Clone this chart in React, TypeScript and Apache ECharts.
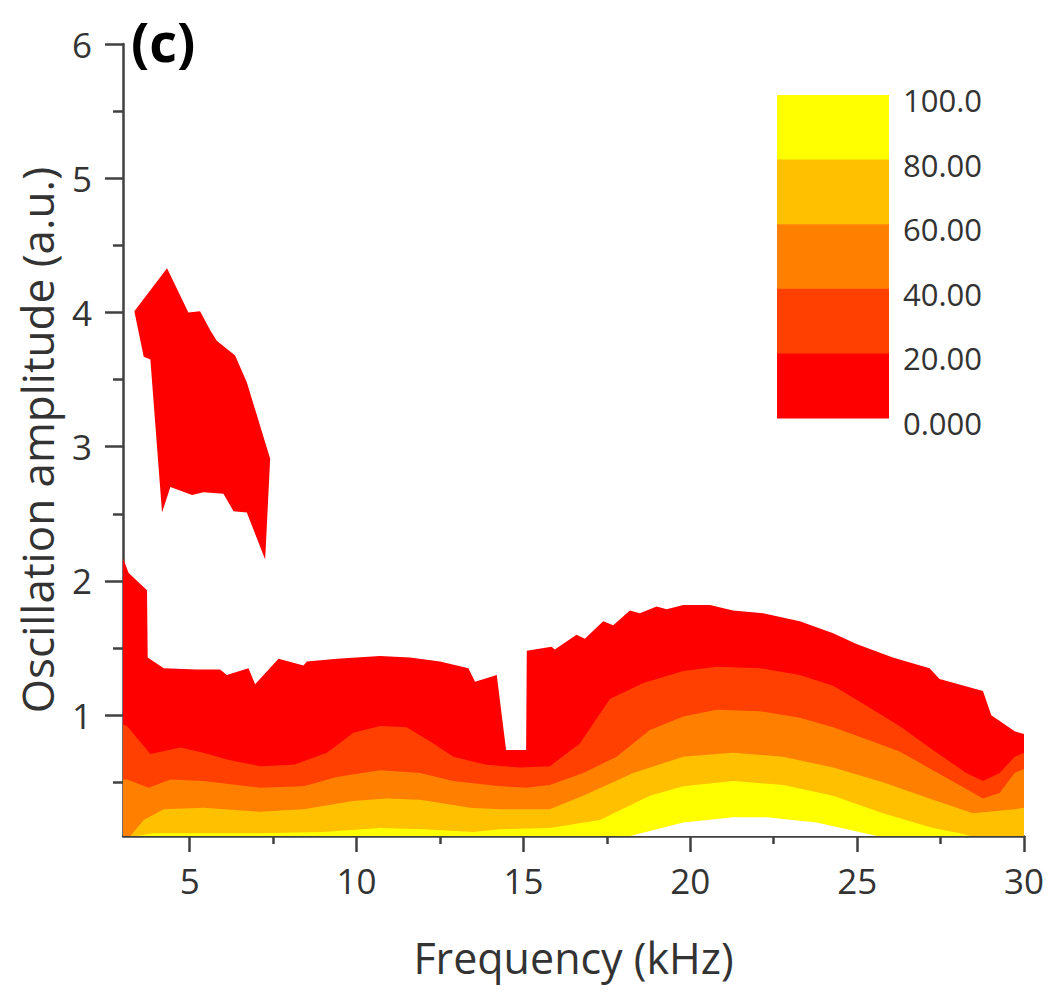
import React, { useEffect, useRef } from "react";
import * as echarts from "echarts";

// ---- tick labels / scales ----
const xTicks = [5, 10, 15, 20, 25, 30];
const xMinorTicks = [7.5, 12.5, 17.5, 22.5, 27.5];
const yTicks = [1, 2, 3, 4, 5, 6];
const yMinorTicks = [0.5, 1.5, 2.5, 3.5, 4.5, 5.5];
const legendLabels = ["100.0", "80.00", "60.00", "40.00", "20.00", "0.000"];
const legendColors = ["#FFFF00", "#FFC000", "#FF8000", "#FF4000", "#FF0000"];

// ---- contour boundaries [frequency kHz, amplitude] ----
// upper edge of the measured region (0 level, red band top)
const level0Top = [
  [3.0, 2.17], [3.17, 2.06], [3.72, 1.93], [3.74, 1.43], [4.22, 1.35], [5.21, 1.34],
  [5.91, 1.34], [6.11, 1.3], [6.76, 1.35], [6.96, 1.23], [7.66, 1.42], [8.41, 1.37],
  [8.51, 1.4], [9.41, 1.42], [10.7, 1.44], [11.6, 1.43], [12.5, 1.4], [13.35, 1.35],
  [13.55, 1.25], [14.2, 1.3], [14.48, 0.74], [15.08, 0.74], [15.1, 1.48], [15.84, 1.51],
  [15.94, 1.49], [16.59, 1.6], [16.84, 1.57], [17.39, 1.7], [17.69, 1.67], [18.19, 1.78],
  [18.49, 1.76], [18.99, 1.81], [19.29, 1.79], [19.79, 1.82], [20.59, 1.82], [21.28, 1.78],
  [22.18, 1.76], [23.28, 1.7], [24.28, 1.61], [24.98, 1.53], [26.07, 1.43], [27.17, 1.35],
  [27.47, 1.27], [28.77, 1.18], [29.02, 1.0], [29.72, 0.88], [30.0, 0.86],
];
// 20 level
const level20 = [
  [3.0, 0.93], [3.12, 0.92], [3.82, 0.71], [4.72, 0.76], [5.41, 0.72], [6.11, 0.67],
  [7.11, 0.62], [8.11, 0.63], [9.11, 0.72], [9.9, 0.87], [10.7, 0.92], [11.5, 0.91],
  [12.3, 0.79], [12.9, 0.69], [13.9, 0.63], [14.9, 0.61], [15.79, 0.62], [16.69, 0.79],
  [17.59, 1.12], [18.59, 1.24], [19.79, 1.33], [20.79, 1.36], [22.08, 1.35], [23.28, 1.3],
  [24.28, 1.22], [25.28, 1.07], [26.27, 0.92], [27.27, 0.74], [28.27, 0.57], [28.77, 0.51],
  [29.27, 0.57], [29.72, 0.69], [30.0, 0.72],
];
// 40 level
const level40 = [
  [3.0, 0.52], [3.12, 0.52], [3.77, 0.46], [4.42, 0.52], [5.41, 0.51], [7.11, 0.46],
  [8.41, 0.47], [9.41, 0.54], [10.7, 0.59], [11.9, 0.57], [12.9, 0.51], [14.3, 0.47],
  [15.1, 0.46], [15.79, 0.48], [16.79, 0.57], [17.79, 0.69], [18.79, 0.89], [19.79, 0.99],
  [20.79, 1.04], [22.08, 1.03], [23.28, 0.98], [24.28, 0.91], [25.28, 0.82], [26.27, 0.73],
  [27.27, 0.59], [28.27, 0.45], [28.77, 0.38], [29.27, 0.42], [29.72, 0.57], [30.0, 0.6],
];
// 60 level
const level60 = [
  [3.22, 0.1], [3.62, 0.22], [4.22, 0.3], [5.41, 0.31], [7.11, 0.28], [8.41, 0.3],
  [9.9, 0.36], [10.9, 0.38], [11.9, 0.37], [13.4, 0.31], [14.3, 0.3], [15.79, 0.3],
  [16.79, 0.4], [18.29, 0.57], [19.79, 0.69], [21.28, 0.72], [22.78, 0.69], [24.28, 0.61],
  [25.77, 0.5], [27.27, 0.37], [28.47, 0.27], [29.72, 0.3], [30.0, 0.31],
];
// 80 level
const level80 = [
  [3.4, 0.1], [3.9, 0.12], [5.0, 0.12], [7.0, 0.12], [9.0, 0.13], [10.7, 0.16],
  [12.0, 0.15], [13.5, 0.13], [14.3, 0.15], [15.79, 0.16], [17.29, 0.22], [18.79, 0.4],
  [19.79, 0.47], [21.28, 0.51], [22.78, 0.48], [24.28, 0.4], [25.77, 0.27], [27.27, 0.16],
  [28.07, 0.12], [28.4, 0.1],
];
// 100 level (above range, unfilled)
const level100 = [
  [18.2, 0.1], [19.79, 0.2], [21.28, 0.24], [22.28, 0.24], [23.78, 0.2], [25.6, 0.1],
];
// isolated 0-20 island at low frequency
const islandPoints = [
  [3.34, 4.01], [4.32, 4.33], [4.96, 4.0], [5.31, 4.01], [5.61, 3.87], [5.81, 3.79],
  [6.36, 3.68], [6.71, 3.48], [7.41, 2.91], [7.26, 2.16], [6.71, 2.51], [6.31, 2.52],
  [6.01, 2.65], [5.41, 2.66], [5.07, 2.64], [4.42, 2.7], [4.17, 2.51], [3.82, 3.65],
  [3.62, 3.67],
];

const FONT = "'Open Sans', sans-serif";
const AXIS_COLOR = "#404040";
const TEXT_COLOR = "#333333";

function area(name: string, data: number[][], color: string) {
  return {
    type: "line",
    name,
    data,
    xAxisIndex: 0,
    yAxisIndex: 0,
    symbol: "none",
    showSymbol: false,
    silent: true,
    lineStyle: { width: 0, color },
    areaStyle: { color, opacity: 1, origin: "start" },
  };
}

export default function App() {
  const ref = useRef<HTMLDivElement>(null);
  useEffect(() => {
    if (!ref.current) return;
    const chart = echarts.init(ref.current, null, { renderer: "svg" });

    const legX = 777;
    const legTop = 95;
    const legW = 112;
    const legH = 64.6;
    const graphics: any[] = [];
    legendColors.forEach((c, i) => {
      graphics.push({
        type: "rect",
        shape: { x: legX, y: legTop + i * legH, width: legW, height: legH + 0.6 },
        style: { fill: c },
        silent: true,
      });
    });
    legendLabels.forEach((t, i) => {
      graphics.push({
        type: "text",
        x: 903,
        y: legTop + i * legH + 5,
        style: {
          text: t,
          fill: TEXT_COLOR,
          font: `31px ${FONT}`,
          textVerticalAlign: "middle",
          textAlign: "left",
        },
        silent: true,
      });
    });
    graphics.push({
      type: "text",
      x: 131,
      y: 41,
      style: {
        text: "(c)",
        fill: "#000",
        font: `bold 54px ${FONT}`,
        textVerticalAlign: "middle",
        textAlign: "left",
      },
      silent: true,
    });

    chart.setOption({
      animation: false,
      backgroundColor: "#ffffff",
      grid: {
        left: 123,
        right: 39,
        top: 44,
        bottom: 164,
        containLabel: false,
        outerBoundsMode: "none",
      },
      xAxis: [
        {
          type: "value",
          min: 3,
          max: 30,
          position: "bottom",
          name: "Frequency (kHz)",
          nameLocation: "middle",
          nameGap: 100,
          nameMoveOverlap: false,
          nameTextStyle: { fontSize: 43, fontFamily: FONT, color: TEXT_COLOR },
          axisLine: { show: true, lineStyle: { color: AXIS_COLOR, width: 2.5 } },
          axisTick: { show: true, customValues: xTicks, length: 16, lineStyle: { color: AXIS_COLOR, width: 2.5 } },
          axisLabel: { customValues: xTicks, fontSize: 35, fontFamily: FONT, color: TEXT_COLOR, margin: 27 },
          splitLine: { show: false },
        },
        {
          type: "value",
          min: 3,
          max: 30,
          position: "bottom",
          axisLine: { show: false },
          axisTick: { show: true, customValues: xMinorTicks, length: 8, lineStyle: { color: AXIS_COLOR, width: 2.5 } },
          axisLabel: { show: false },
          splitLine: { show: false },
        },
      ],
      yAxis: [
        {
          type: "value",
          min: 0.1,
          max: 6,
          position: "left",
          name: "Oscillation amplitude (a.u.)",
          nameLocation: "middle",
          nameGap: 64,
          nameMoveOverlap: false,
          nameTextStyle: { fontSize: 44, fontFamily: FONT, color: TEXT_COLOR },
          axisLine: { show: true, lineStyle: { color: AXIS_COLOR, width: 2.5 } },
          axisTick: { show: true, customValues: yTicks, length: 18, lineStyle: { color: AXIS_COLOR, width: 2.5 } },
          axisLabel: { customValues: yTicks, fontSize: 35, fontFamily: FONT, color: TEXT_COLOR, margin: 31 },
          splitLine: { show: false },
        },
        {
          type: "value",
          min: 0.1,
          max: 6,
          position: "left",
          axisLine: { show: false },
          axisTick: { show: true, customValues: yMinorTicks, length: 10, lineStyle: { color: AXIS_COLOR, width: 2.5 } },
          axisLabel: { show: false },
          splitLine: { show: false },
        },
      ],
      series: [
        area("0-20", level0Top, "#FF0000"),
        area("20-40", level20, "#FF4000"),
        area("40-60", level40, "#FF8000"),
        area("60-80", level60, "#FFC000"),
        area("80-100", level80, "#FFFF00"),
        area(">100", level100, "#FFFFFF"),
        {
          type: "custom",
          name: "island",
          xAxisIndex: 0,
          yAxisIndex: 0,
          data: islandPoints,
          encode: { x: 0, y: 1 },
          silent: true,
          renderItem: (params: any, api: any) => {
            if (params.dataIndex !== 0) return null;
            const points = islandPoints.map((p) => api.coord(p));
            return { type: "polygon", shape: { points }, style: { fill: "#FF0000" } };
          },
        },
      ],
      graphic: graphics,
    });

    return () => chart.dispose();
  }, []);

  return (
    <div
      ref={ref}
      style={{ position: "absolute", left: 0, top: 0, width: 1063, height: 1000, background: "#fff" }}
    />
  );
}
